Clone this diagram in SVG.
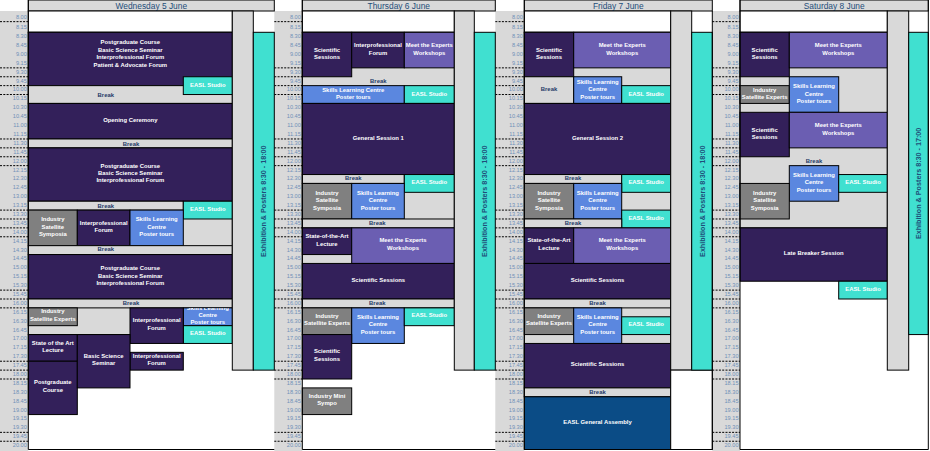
<svg xmlns="http://www.w3.org/2000/svg" width="930" height="451" viewBox="0 0 930 451">
<defs>
<style>
.bx{stroke:#000;stroke-width:1}
.pu{fill:#33205a}
.mp{fill:#6b5eb2}
.bl{fill:#5b87df}
.tq{fill:#40e0d0}
.dg{fill:#808080}
.lg{fill:#d9d9d9}
.wh{fill:#fff}
.ga{fill:#0b4c86}
text{font-family:"Liberation Sans",Arial,sans-serif}
.s{font-size:5.9px;font-weight:bold;fill:#fff;text-anchor:middle}
.k{font-size:5.9px;font-weight:bold;fill:#1f3a68;text-anchor:middle}
.h{font-size:8.4px;fill:#1f4e79;text-anchor:middle}
.e{font-size:7.2px;font-weight:bold;fill:#1f4e79;text-anchor:middle}
.tm{font-size:5.6px;fill:#7090b8;text-anchor:end;font-family:"Liberation Sans",Arial,sans-serif}
.dl{stroke:#000;stroke-width:1;stroke-dasharray:2 1.3;fill:none}
.ln{stroke:#000;stroke-width:1;fill:none}
</style>
<clipPath id="cw16"><rect x="183.3" y="307.89" width="49" height="17.78"/></clipPath>
</defs>
<rect width="930" height="451" fill="#fff"/>
<!-- time columns -->
<g id="timecols">
<rect class="lg" x="0" y="11" width="28.3" height="440"/>
<rect class="lg" x="274.3" y="11" width="28" height="440"/>
<rect class="lg" x="495.3" y="11" width="29" height="440"/>
<rect class="lg" x="712.3" y="11" width="27.7" height="440"/>
<path class="dl" d="M0 21.65H28.3M0 67.86H28.3M0 76.75H28.3M0 85.64H28.3M0 94.53H28.3M0 138.98H28.3M0 147.87H28.3M0 156.76H28.3M0 165.65H28.3M0 210.1H28.3M0 218.99H28.3M0 227.88H28.3M0 236.77H28.3M0 290.11H28.3M0 299H28.3M0 307.89H28.3M0 361.23H28.3M0 370.12H28.3M0 379.01H28.3M0 432.35H28.3M0 441.24H28.3"/>
<path class="dl" d="M274.3 21.65H302.3M274.3 67.86H302.3M274.3 76.75H302.3M274.3 85.64H302.3M274.3 94.53H302.3M274.3 138.98H302.3M274.3 147.87H302.3M274.3 156.76H302.3M274.3 165.65H302.3M274.3 210.1H302.3M274.3 218.99H302.3M274.3 227.88H302.3M274.3 236.77H302.3M274.3 290.11H302.3M274.3 299H302.3M274.3 307.89H302.3M274.3 361.23H302.3M274.3 370.12H302.3M274.3 379.01H302.3M274.3 432.35H302.3M274.3 441.24H302.3"/>
<path class="dl" d="M495.3 21.65H524.3M495.3 67.86H524.3M495.3 76.75H524.3M495.3 85.64H524.3M495.3 94.53H524.3M495.3 138.98H524.3M495.3 147.87H524.3M495.3 156.76H524.3M495.3 165.65H524.3M495.3 210.1H524.3M495.3 218.99H524.3M495.3 227.88H524.3M495.3 236.77H524.3M495.3 290.11H524.3M495.3 299H524.3M495.3 307.89H524.3M495.3 361.23H524.3M495.3 370.12H524.3M495.3 379.01H524.3M495.3 432.35H524.3M495.3 441.24H524.3"/>
<path class="dl" d="M712.3 21.65H740M712.3 67.86H740M712.3 76.75H740M712.3 85.64H740M712.3 94.53H740M712.3 138.98H740M712.3 147.87H740M712.3 156.76H740M712.3 165.65H740M712.3 210.1H740M712.3 218.99H740M712.3 227.88H740M712.3 236.77H740M712.3 290.11H740M712.3 299H740M712.3 307.89H740M712.3 361.23H740M712.3 370.12H740M712.3 379.01H740M712.3 432.35H740M712.3 441.24H740"/>
</g>
<g id="times-wed" class="tm">
<text x="26.8" y="18.6">8.00</text><text x="26.8" y="28.6">8.15</text><text x="26.8" y="38.1">8.30</text><text x="26.8" y="47">8.45</text><text x="26.8" y="55.9">9.00</text><text x="26.8" y="64.8">9.15</text><text x="26.8" y="73.7">9.30</text><text x="26.8" y="82.6">9.45</text><text x="26.8" y="91.4">10.00</text><text x="26.8" y="100.3">10.15</text><text x="26.8" y="109.2">10.30</text><text x="26.8" y="118.1">10.45</text><text x="26.8" y="127">11.00</text><text x="26.8" y="135.9">11.15</text><text x="26.8" y="144.8">11.30</text><text x="26.8" y="153.7">11.45</text><text x="26.8" y="162.6">12.00</text><text x="26.8" y="171.5">12.15</text><text x="26.8" y="180.3">12.30</text><text x="26.8" y="189.2">12.45</text><text x="26.8" y="198.1">13.00</text><text x="26.8" y="207">13.15</text><text x="26.8" y="215.9">13.30</text><text x="26.8" y="224.8">13.45</text><text x="26.8" y="233.7">14.00</text><text x="26.8" y="242.6">14.15</text><text x="26.8" y="251.5">14.30</text><text x="26.8" y="260.4">14.45</text><text x="26.8" y="269.2">15.00</text><text x="26.8" y="278.1">15.15</text><text x="26.8" y="287">15.30</text><text x="26.8" y="295.9">15.45</text><text x="26.8" y="304.8">16.00</text><text x="26.8" y="313.7">16.15</text><text x="26.8" y="322.6">16.30</text><text x="26.8" y="331.5">16.45</text><text x="26.8" y="340.4">17.00</text><text x="26.8" y="349.3">17.15</text><text x="26.8" y="358.1">17.30</text><text x="26.8" y="367">17.45</text><text x="26.8" y="375.9">18.00</text><text x="26.8" y="384.8">18.15</text><text x="26.8" y="393.7">18.30</text><text x="26.8" y="402.6">18.45</text><text x="26.8" y="411.5">19.00</text><text x="26.8" y="420.4">19.15</text><text x="26.8" y="429.3">19.30</text><text x="26.8" y="438.2">19.45</text><text x="26.8" y="447">20.00</text>
</g>
<g id="times-thu" class="tm">
<text x="300.8" y="18.6">8.00</text><text x="300.8" y="28.6">8.15</text><text x="300.8" y="38.1">8.30</text><text x="300.8" y="47">8.45</text><text x="300.8" y="55.9">9.00</text><text x="300.8" y="64.8">9.15</text><text x="300.8" y="73.7">9.30</text><text x="300.8" y="82.6">9.45</text><text x="300.8" y="91.4">10.00</text><text x="300.8" y="100.3">10.15</text><text x="300.8" y="109.2">10.30</text><text x="300.8" y="118.1">10.45</text><text x="300.8" y="127">11.00</text><text x="300.8" y="135.9">11.15</text><text x="300.8" y="144.8">11.30</text><text x="300.8" y="153.7">11.45</text><text x="300.8" y="162.6">12.00</text><text x="300.8" y="171.5">12.15</text><text x="300.8" y="180.3">12.30</text><text x="300.8" y="189.2">12.45</text><text x="300.8" y="198.1">13.00</text><text x="300.8" y="207">13.15</text><text x="300.8" y="215.9">13.30</text><text x="300.8" y="224.8">13.45</text><text x="300.8" y="233.7">14.00</text><text x="300.8" y="242.6">14.15</text><text x="300.8" y="251.5">14.30</text><text x="300.8" y="260.4">14.45</text><text x="300.8" y="269.2">15.00</text><text x="300.8" y="278.1">15.15</text><text x="300.8" y="287">15.30</text><text x="300.8" y="295.9">15.45</text><text x="300.8" y="304.8">16.00</text><text x="300.8" y="313.7">16.15</text><text x="300.8" y="322.6">16.30</text><text x="300.8" y="331.5">16.45</text><text x="300.8" y="340.4">17.00</text><text x="300.8" y="349.3">17.15</text><text x="300.8" y="358.1">17.30</text><text x="300.8" y="367">17.45</text><text x="300.8" y="375.9">18.00</text><text x="300.8" y="384.8">18.15</text><text x="300.8" y="393.7">18.30</text><text x="300.8" y="402.6">18.45</text><text x="300.8" y="411.5">19.00</text><text x="300.8" y="420.4">19.15</text><text x="300.8" y="429.3">19.30</text><text x="300.8" y="438.2">19.45</text><text x="300.8" y="447">20.00</text>
</g>
<g id="times-fri" class="tm">
<text x="522.8" y="18.6">8.00</text><text x="522.8" y="28.6">8.15</text><text x="522.8" y="38.1">8.30</text><text x="522.8" y="47">8.45</text><text x="522.8" y="55.9">9.00</text><text x="522.8" y="64.8">9.15</text><text x="522.8" y="73.7">9.30</text><text x="522.8" y="82.6">9.45</text><text x="522.8" y="91.4">10.00</text><text x="522.8" y="100.3">10.15</text><text x="522.8" y="109.2">10.30</text><text x="522.8" y="118.1">10.45</text><text x="522.8" y="127">11.00</text><text x="522.8" y="135.9">11.15</text><text x="522.8" y="144.8">11.30</text><text x="522.8" y="153.7">11.45</text><text x="522.8" y="162.6">12.00</text><text x="522.8" y="171.5">12.15</text><text x="522.8" y="180.3">12.30</text><text x="522.8" y="189.2">12.45</text><text x="522.8" y="198.1">13.00</text><text x="522.8" y="207">13.15</text><text x="522.8" y="215.9">13.30</text><text x="522.8" y="224.8">13.45</text><text x="522.8" y="233.7">14.00</text><text x="522.8" y="242.6">14.15</text><text x="522.8" y="251.5">14.30</text><text x="522.8" y="260.4">14.45</text><text x="522.8" y="269.2">15.00</text><text x="522.8" y="278.1">15.15</text><text x="522.8" y="287">15.30</text><text x="522.8" y="295.9">15.45</text><text x="522.8" y="304.8">16.00</text><text x="522.8" y="313.7">16.15</text><text x="522.8" y="322.6">16.30</text><text x="522.8" y="331.5">16.45</text><text x="522.8" y="340.4">17.00</text><text x="522.8" y="349.3">17.15</text><text x="522.8" y="358.1">17.30</text><text x="522.8" y="367">17.45</text><text x="522.8" y="375.9">18.00</text><text x="522.8" y="384.8">18.15</text><text x="522.8" y="393.7">18.30</text><text x="522.8" y="402.6">18.45</text><text x="522.8" y="411.5">19.00</text><text x="522.8" y="420.4">19.15</text><text x="522.8" y="429.3">19.30</text><text x="522.8" y="438.2">19.45</text><text x="522.8" y="447">20.00</text>
</g>
<g id="times-sat" class="tm">
<text x="738.5" y="18.6">8.00</text><text x="738.5" y="28.6">8.15</text><text x="738.5" y="38.1">8.30</text><text x="738.5" y="47">8.45</text><text x="738.5" y="55.9">9.00</text><text x="738.5" y="64.8">9.15</text><text x="738.5" y="73.7">9.30</text><text x="738.5" y="82.6">9.45</text><text x="738.5" y="91.4">10.00</text><text x="738.5" y="100.3">10.15</text><text x="738.5" y="109.2">10.30</text><text x="738.5" y="118.1">10.45</text><text x="738.5" y="127">11.00</text><text x="738.5" y="135.9">11.15</text><text x="738.5" y="144.8">11.30</text><text x="738.5" y="153.7">11.45</text><text x="738.5" y="162.6">12.00</text><text x="738.5" y="171.5">12.15</text><text x="738.5" y="180.3">12.30</text><text x="738.5" y="189.2">12.45</text><text x="738.5" y="198.1">13.00</text><text x="738.5" y="207">13.15</text><text x="738.5" y="215.9">13.30</text><text x="738.5" y="224.8">13.45</text><text x="738.5" y="233.7">14.00</text><text x="738.5" y="242.6">14.15</text><text x="738.5" y="251.5">14.30</text><text x="738.5" y="260.4">14.45</text><text x="738.5" y="269.2">15.00</text><text x="738.5" y="278.1">15.15</text><text x="738.5" y="287">15.30</text><text x="738.5" y="295.9">15.45</text><text x="738.5" y="304.8">16.00</text><text x="738.5" y="313.7">16.15</text><text x="738.5" y="322.6">16.30</text><text x="738.5" y="331.5">16.45</text><text x="738.5" y="340.4">17.00</text><text x="738.5" y="349.3">17.15</text><text x="738.5" y="358.1">17.30</text><text x="738.5" y="367">17.45</text><text x="738.5" y="375.9">18.00</text><text x="738.5" y="384.8">18.15</text><text x="738.5" y="393.7">18.30</text><text x="738.5" y="402.6">18.45</text><text x="738.5" y="411.5">19.00</text><text x="738.5" y="420.4">19.15</text><text x="738.5" y="429.3">19.30</text><text x="738.5" y="438.2">19.45</text><text x="738.5" y="447">20.00</text>
</g>
<!-- headers -->
<g id="hdr-wed"><rect class="bx lg" x="28.3" y="0" width="246" height="11"/><text class="h" x="151.3" y="8.6">Wednesday 5 June</text></g>
<g id="hdr-thu"><rect class="bx lg" x="302.3" y="0" width="193" height="11"/><text class="h" x="398.8" y="8.6">Thursday 6 June</text></g>
<g id="hdr-fri"><rect class="bx lg" x="524.3" y="0" width="188" height="11"/><text class="h" x="618.3" y="8.6">Friday 7 June</text></g>
<g id="hdr-sat"><rect class="bx lg" x="740" y="0" width="188.3" height="11"/><text class="h" x="834.2" y="8.6">Saturday 8 June</text></g>

<!-- WEDNESDAY -->
<g id="wed-bg"><rect class="bx wh" x="28.3" y="11" width="204" height="21.3"/><rect class="bx lg" x="28.3" y="32.3" width="204" height="302.26"/></g>
<g id="w1"><rect class="bx pu" x="28.3" y="32.3" width="204" height="53.34"/><text class="s"><tspan x="130.3" y="44.3">Postgraduate Course</tspan><tspan x="130.3" y="51.7">Basic Science Seminar</tspan><tspan x="130.3" y="59.1">Interprofessional Forum</tspan><tspan x="130.3" y="66.5">Patient &amp; Advocate Forum</tspan></text></g>
<g id="w3"><rect class="bx lg" x="28.3" y="85.64" width="204" height="17.78"/><text class="k" x="105.8" y="96.5">Break</text></g>
<g id="w2"><rect class="bx tq" x="183.3" y="76.75" width="49" height="17.78"/><text class="s" x="207.8" y="87.2">EASL Studio</text></g>
<g id="w4"><rect class="bx pu" x="28.3" y="103.42" width="204" height="35.56"/><text class="s" x="130.3" y="122.3">Opening Ceremony</text></g>
<g id="w5"><rect class="bx lg" x="28.3" y="138.98" width="204" height="8.89"/><text class="k" x="131" y="145.5">Break</text></g>
<g id="w6"><rect class="bx pu" x="28.3" y="147.87" width="204" height="53.34"/><text class="s"><tspan x="130.3" y="167.8">Postgraduate Course</tspan><tspan x="130.3" y="175.1">Basic Science Seminar</tspan><tspan x="130.3" y="182.4">Interprofessional Forum</tspan></text></g>
<g id="w7"><rect class="bx lg" x="28.3" y="201.21" width="155" height="8.89"/><text class="k" x="105.8" y="207.7">Break</text></g>
<g id="w8"><rect class="bx tq" x="183.3" y="201.21" width="49" height="17.78"/><text class="s" x="207.8" y="211.2">EASL Studio</text></g>
<g id="w9"><rect class="bx dg" x="28.3" y="210.1" width="49" height="35.56"/><text class="s"><tspan x="52.8" y="221.1">Industry</tspan><tspan x="52.8" y="228.8">Satellite</tspan><tspan x="52.8" y="236.4">Symposia</tspan></text></g>
<g id="w10"><rect class="bx pu" x="77.3" y="210.1" width="52.7" height="35.56"/><text class="s"><tspan x="103.65" y="225.1">Interprofessional</tspan><tspan x="103.65" y="232.4">Forum</tspan></text></g>
<g id="w11"><rect class="bx bl" x="130" y="210.1" width="53.3" height="35.56"/><text class="s"><tspan x="156.65" y="221.1">Skills Learning</tspan><tspan x="156.65" y="228.8">Centre</tspan><tspan x="156.65" y="236.4">Poster tours</tspan></text></g>
<g id="w12"><rect class="bx lg" x="28.3" y="245.66" width="204" height="8.89"/><text class="k" x="105.8" y="251.2">Break</text></g>
<g id="w13"><rect class="bx pu" x="28.3" y="254.55" width="204" height="44.45"/><text class="s"><tspan x="130.3" y="270.4">Postgraduate Course</tspan><tspan x="130.3" y="277.8">Basic Science Seminar</tspan><tspan x="130.3" y="285.1">Interprofessional Forum</tspan></text></g>
<g id="w14"><rect class="bx lg" x="28.3" y="299" width="204" height="8.89"/><text class="k" x="131" y="304.8">Break</text></g>
<g id="w15"><rect class="bx dg" x="28.3" y="307.89" width="49" height="17.78"/><text class="s"><tspan x="52.8" y="313.1">Industry</tspan><tspan x="52.8" y="321.1">Satellite Experts</tspan></text></g>
<g id="w16"><rect class="bx bl" x="183.3" y="307.89" width="49" height="17.78"/><text class="s" clip-path="url(#cw16)"><tspan x="207.8" y="310.1">Skills Learning</tspan><tspan x="207.8" y="317.2">Centre</tspan><tspan x="207.8" y="324.4">Poster tours</tspan></text></g>
<g id="w17"><rect class="bx tq" x="183.3" y="325.67" width="49" height="17.78"/><text class="s" x="207.8" y="334.9">EASL Studio</text></g>
<g id="w18"><rect class="bx pu" x="130" y="307.89" width="53.3" height="35.56"/><text class="s"><tspan x="156.65" y="322.1">Interprofessional</tspan><tspan x="156.65" y="330.4">Forum</tspan></text></g>
<g id="w19"><rect class="bx pu" x="130" y="352.34" width="53.3" height="17.78"/><text class="s"><tspan x="156.65" y="358.1">Interprofessional</tspan><tspan x="156.65" y="365.4">Forum</tspan></text></g>
<g id="w20"><rect class="bx pu" x="28.3" y="334.56" width="49" height="26.67"/><text class="s"><tspan x="52.8" y="345.4">State of the Art</tspan><tspan x="52.8" y="352.4">Lecture</tspan></text></g>
<g id="w21"><rect class="bx pu" x="28.3" y="361.23" width="49" height="53.34"/><text class="s"><tspan x="52.8" y="384.4">Postgraduate</tspan><tspan x="52.8" y="392.1">Course</tspan></text></g>
<g id="w22"><rect class="bx pu" x="77.3" y="334.56" width="52.7" height="53.34"/><text class="s"><tspan x="103.65" y="358.1">Basic Science</tspan><tspan x="103.65" y="365.4">Seminar</tspan></text></g>
<g id="wed-bar"><rect class="bx lg" x="232.3" y="11" width="21" height="359.12"/></g>
<g id="wed-exh"><rect class="bx tq" x="253.3" y="32.3" width="21" height="337.82"/><text class="e" transform="translate(263.8,201.2) rotate(-90)" x="0" y="2.6">Exhibition &amp; Posters 8:30 - 18:00</text></g>

<!-- THURSDAY -->
<g id="thu-bg"><rect class="bx wh" x="302.3" y="11" width="152" height="21.3"/><rect class="bx lg" x="302.3" y="32.3" width="152" height="275.59"/></g>
<g id="t1"><rect class="bx pu" x="302.3" y="32.3" width="49.4" height="44.45"/><text class="s"><tspan x="327" y="52.1">Scientific</tspan><tspan x="327" y="59.1">Sessions</tspan></text></g>
<g id="t2"><rect class="bx pu" x="351.7" y="32.3" width="52.6" height="35.56"/><text class="s"><tspan x="378" y="47.1">Interprofessional</tspan><tspan x="378" y="54.8">Forum</tspan></text></g>
<g id="t3"><rect class="bx mp" x="404.3" y="32.3" width="50" height="35.56"/><text class="s"><tspan x="429.3" y="47.1">Meet the Experts</tspan><tspan x="429.3" y="54.8">Workshops</tspan></text></g>
<g id="t4"><text class="k" x="378.3" y="83.1">Break</text></g>
<g id="t5"><rect class="bx bl" x="302.3" y="85.64" width="102" height="17.78"/><text class="s"><tspan x="353.3" y="92.1">Skills Learning Centre</tspan><tspan x="353.3" y="99.4">Poster tours</tspan></text></g>
<g id="t6"><rect class="bx tq" x="404.3" y="85.64" width="50" height="17.78"/><text class="s" x="429.3" y="96.1">EASL Studio</text></g>
<g id="t7"><rect class="bx pu" x="302.3" y="103.42" width="152" height="71.12"/><text class="s" x="378.3" y="139.8">General Session 1</text></g>
<g id="t8"><rect class="bx lg" x="302.3" y="174.54" width="102" height="8.89"/><text class="k" x="353.3" y="180.4">Break</text></g>
<g id="t9"><rect class="bx tq" x="404.3" y="174.54" width="50" height="17.78"/><text class="s" x="429.3" y="184.1">EASL Studio</text></g>
<g id="t10"><rect class="bx dg" x="302.3" y="183.43" width="49.4" height="35.56"/><text class="s"><tspan x="327" y="195.1">Industry</tspan><tspan x="327" y="202.1">Satellite</tspan><tspan x="327" y="209.8">Symposia</tspan></text></g>
<g id="t11"><rect class="bx bl" x="351.7" y="183.43" width="52.6" height="35.56"/><text class="s"><tspan x="378" y="195.1">Skills Learning</tspan><tspan x="378" y="202.1">Centre</tspan><tspan x="378" y="209.8">Poster tours</tspan></text></g>
<g id="t12"><rect class="bx lg" x="302.3" y="218.99" width="152" height="8.89"/><text class="k" x="377.3" y="225">Break</text></g>
<g id="t13"><rect class="bx pu" x="302.3" y="227.88" width="49.4" height="26.67"/><text class="s"><tspan x="327" y="238.1">State-of-the-Art</tspan><tspan x="327" y="246.1">Lecture</tspan></text></g>
<g id="t14"><rect class="bx mp" x="351.7" y="227.88" width="102.6" height="35.56"/><text class="s"><tspan x="403" y="242.1">Meet the Experts</tspan><tspan x="403" y="250.4">Workshops</tspan></text></g>
<g id="t15"><rect class="bx pu" x="302.3" y="263.44" width="152" height="35.56"/><text class="s" x="378.3" y="282.1">Scientific Sessions</text></g>
<g id="t16"><rect class="bx lg" x="302.3" y="299" width="152" height="8.89"/><text class="k" x="377.3" y="305.2">Break</text></g>
<g id="t17"><rect class="bx dg" x="302.3" y="307.89" width="49.4" height="26.67"/><text class="s"><tspan x="327" y="318.1">Industry</tspan><tspan x="327" y="325.4">Satellite Experts</tspan></text></g>
<g id="t18"><rect class="bx bl" x="351.7" y="307.89" width="52.6" height="35.56"/><text class="s"><tspan x="378" y="319.4">Skills Learning</tspan><tspan x="378" y="326.4">Centre</tspan><tspan x="378" y="334.1">Poster tours</tspan></text></g>
<g id="t19"><rect class="bx tq" x="404.3" y="307.89" width="50" height="17.78"/><text class="s" x="429.3" y="317.2">EASL Studio</text></g>
<g id="t20"><rect class="bx pu" x="302.3" y="334.56" width="49.4" height="44.45"/><text class="s"><tspan x="327" y="353.1">Scientific</tspan><tspan x="327" y="361.1">Sessions</tspan></text></g>
<g id="t21"><rect class="bx dg" x="302.3" y="387.9" width="49.4" height="26.67"/><text class="s"><tspan x="327" y="398.1">Industry Mini</tspan><tspan x="327" y="405.4">Sympo</tspan></text></g>
<g id="thu-bar"><rect class="bx lg" x="454.3" y="11" width="20" height="359.12"/></g>
<g id="thu-exh"><rect class="bx tq" x="474.3" y="32.3" width="21" height="337.82"/><text class="e" transform="translate(484.8,201.2) rotate(-90)" x="0" y="2.6">Exhibition &amp; Posters 8:30 - 18:00</text></g>

<!-- FRIDAY -->
<g id="fri-bg"><rect class="bx wh" x="524.3" y="11" width="146.4" height="21.3"/><rect class="bx lg" x="524.3" y="32.3" width="146.4" height="364.49"/></g>
<g id="f1"><rect class="bx pu" x="524.3" y="32.3" width="49.4" height="44.45"/><text class="s"><tspan x="549" y="52.1">Scientific</tspan><tspan x="549" y="59.1">Sessions</tspan></text></g>
<g id="f2"><rect class="bx mp" x="573.7" y="32.3" width="97" height="35.56"/><text class="s"><tspan x="622.2" y="47.1">Meet the Experts</tspan><tspan x="622.2" y="54.8">Workshops</tspan></text></g>
<g id="f3"><rect class="bx lg" x="524.3" y="76.75" width="49.4" height="26.67"/><text class="k" x="549" y="91.1">Break</text></g>
<g id="f4"><rect class="bx bl" x="573.7" y="76.75" width="48" height="26.67"/><text class="s"><tspan x="597.7" y="83.8">Skills Learning</tspan><tspan x="597.7" y="91.4">Centre</tspan><tspan x="597.7" y="99.1">Poster tours</tspan></text></g>
<g id="f5"><rect class="bx tq" x="621.7" y="85.64" width="49" height="17.78"/><text class="s" x="646.2" y="96.1">EASL Studio</text></g>
<g id="f6"><rect class="bx pu" x="524.3" y="103.42" width="146.4" height="71.12"/><text class="s" x="597.5" y="139.8">General Session 2</text></g>
<g id="f7"><rect class="bx lg" x="524.3" y="174.54" width="97.4" height="8.89"/><text class="k" x="573" y="180.4">Break</text></g>
<g id="f8"><rect class="bx tq" x="621.7" y="174.54" width="49" height="17.78"/><text class="s" x="646.2" y="184.1">EASL Studio</text></g>
<g id="f9"><rect class="bx dg" x="524.3" y="183.43" width="49.4" height="35.56"/><text class="s"><tspan x="549" y="195.1">Industry</tspan><tspan x="549" y="202.1">Satellite</tspan><tspan x="549" y="209.8">Symposia</tspan></text></g>
<g id="f10"><rect class="bx bl" x="573.7" y="183.43" width="48" height="35.56"/><text class="s"><tspan x="597.7" y="195.1">Skills Learning</tspan><tspan x="597.7" y="202.1">Centre</tspan><tspan x="597.7" y="209.8">Poster tours</tspan></text></g>
<g id="f11"><rect class="bx tq" x="621.7" y="210.1" width="49" height="17.78"/><text class="s" x="646.2" y="220">EASL Studio</text></g>
<g id="f12"><rect class="bx lg" x="524.3" y="218.99" width="97.4" height="8.89"/><text class="k" x="573" y="225">Break</text></g>
<g id="f13"><rect class="bx pu" x="524.3" y="227.88" width="49.4" height="35.56"/><text class="s"><tspan x="549" y="242.1">State-of-the-Art</tspan><tspan x="549" y="250.4">Lecture</tspan></text></g>
<g id="f14"><rect class="bx mp" x="573.7" y="227.88" width="97" height="35.56"/><text class="s"><tspan x="622.2" y="242.1">Meet the Experts</tspan><tspan x="622.2" y="250.4">Workshops</tspan></text></g>
<g id="f15"><rect class="bx pu" x="524.3" y="263.44" width="146.4" height="35.56"/><text class="s" x="597.5" y="282.1">Scientific Sessions</text></g>
<g id="f16"><rect class="bx lg" x="524.3" y="299" width="146.4" height="8.89"/><text class="k" x="597.5" y="305.2">Break</text></g>
<g id="f17"><rect class="bx dg" x="524.3" y="307.89" width="49.4" height="26.67"/><text class="s"><tspan x="549" y="318.1">Industry</tspan><tspan x="549" y="325.4">Satellite Experts</tspan></text></g>
<g id="f18"><rect class="bx bl" x="573.7" y="307.89" width="48" height="35.56"/><text class="s"><tspan x="597.7" y="319.4">Skills Learning</tspan><tspan x="597.7" y="326.4">Centre</tspan><tspan x="597.7" y="334.1">Poster tours</tspan></text></g>
<g id="f19"><rect class="bx tq" x="621.7" y="316.78" width="49" height="17.78"/><text class="s" x="646.2" y="326.1">EASL Studio</text></g>
<g id="f20"><rect class="bx pu" x="524.3" y="343.45" width="146.4" height="44.45"/><text class="s" x="597.5" y="366.1">Scientific Sessions</text></g>
<g id="f21"><rect class="bx lg" x="524.3" y="387.9" width="146.4" height="8.89"/><text class="k" x="597.5" y="393.8">Break</text></g>
<g id="f22"><rect class="bx ga" x="524.3" y="396.79" width="146.4" height="52.71"/><text class="s" x="597.5" y="424.1">EASL General Assembly</text></g>
<g id="fri-bar"><rect class="bx lg" x="670.7" y="11" width="21" height="359.12"/><rect class="bx wh" x="670.7" y="370.12" width="41.6" height="79.38"/></g>
<g id="fri-exh"><rect class="bx tq" x="691.7" y="32.3" width="20.6" height="337.82"/><text class="e" transform="translate(702,201.2) rotate(-90)" x="0" y="2.6">Exhibition &amp; Posters 8:30 - 18:00</text></g>

<!-- SATURDAY -->
<g id="sat-bg"><rect class="bx wh" x="740" y="11" width="147.3" height="21.3"/><rect class="bx lg" x="740" y="32.3" width="147.3" height="195.58"/></g>
<g id="s1"><rect class="bx pu" x="740" y="32.3" width="49.3" height="44.45"/><text class="s"><tspan x="764.65" y="52.1">Scientific</tspan><tspan x="764.65" y="59.1">Sessions</tspan></text></g>
<g id="s2"><rect class="bx mp" x="789.3" y="32.3" width="98" height="35.56"/><text class="s"><tspan x="838.3" y="47.1">Meet the Experts</tspan><tspan x="838.3" y="54.8">Workshops</tspan></text></g>
<g id="s3"><rect class="bx dg" x="740" y="85.64" width="49.3" height="17.78"/><text class="s"><tspan x="764.65" y="92.1">Industry</tspan><tspan x="764.65" y="99.4">Satellite Experts</tspan></text></g>
<g id="s4"><rect class="bx bl" x="789.3" y="76.75" width="49.4" height="35.56"/><text class="s"><tspan x="814" y="88.4">Skills Learning</tspan><tspan x="814" y="95.8">Centre</tspan><tspan x="814" y="103.1">Poster tours</tspan></text></g>
<g id="s5"><rect class="bx pu" x="740" y="112.31" width="49.3" height="44.45"/><text class="s"><tspan x="764.65" y="132.1">Scientific</tspan><tspan x="764.65" y="139.1">Sessions</tspan></text></g>
<g id="s6"><rect class="bx mp" x="789.3" y="112.31" width="98" height="35.56"/><text class="s"><tspan x="838.3" y="127.1">Meet the Experts</tspan><tspan x="838.3" y="134.8">Workshops</tspan></text></g>
<g id="s7"><text class="k" x="814" y="163.1">Break</text></g>
<g id="s8"><rect class="bx bl" x="789.3" y="165.65" width="49.4" height="35.56"/><text class="s"><tspan x="814" y="177.1">Skills Learning</tspan><tspan x="814" y="184.1">Centre</tspan><tspan x="814" y="191.8">Poster tours</tspan></text></g>
<g id="s9"><rect class="bx tq" x="838.7" y="174.54" width="48.6" height="17.78"/><text class="s" x="863" y="184.1">EASL Studio</text></g>
<g id="s10"><rect class="bx dg" x="740" y="183.43" width="49.3" height="35.56"/><text class="s"><tspan x="764.65" y="195.1">Industry</tspan><tspan x="764.65" y="202.1">Satellite</tspan><tspan x="764.65" y="209.8">Symposia</tspan></text></g>
<g id="s11"><rect class="bx pu" x="740" y="227.88" width="147.3" height="53.34"/><text class="s" x="813.7" y="255.1">Late Breaker Session</text></g>
<g id="s12"><rect class="bx tq" x="838.7" y="281.22" width="48.6" height="17.78"/><text class="s" x="863" y="290.8">EASL Studio</text></g>
<g id="sat-bar"><rect class="bx lg" x="887.3" y="11" width="21.4" height="359.12"/></g>
<g id="sat-exh"><rect class="bx tq" x="908.7" y="32.3" width="19.6" height="302.26"/><text class="e" transform="translate(918.5,183.4) rotate(-90)" x="0" y="2.6">Exhibition &amp; Posters 8:30 - 17:00</text></g>

<!-- frame lines -->
<g id="frame">
<path class="ln" d="M28.3 0V449.5M302.3 0V449.5M524.3 0V449.5M740 0V449.5M712.3 11V449.5M928.3 0V449.5M28.3 449.5H274.3M302.3 449.5H495.3M524.3 449.5H712.3M740 449.5H928.3"/>
</g>
</svg>
